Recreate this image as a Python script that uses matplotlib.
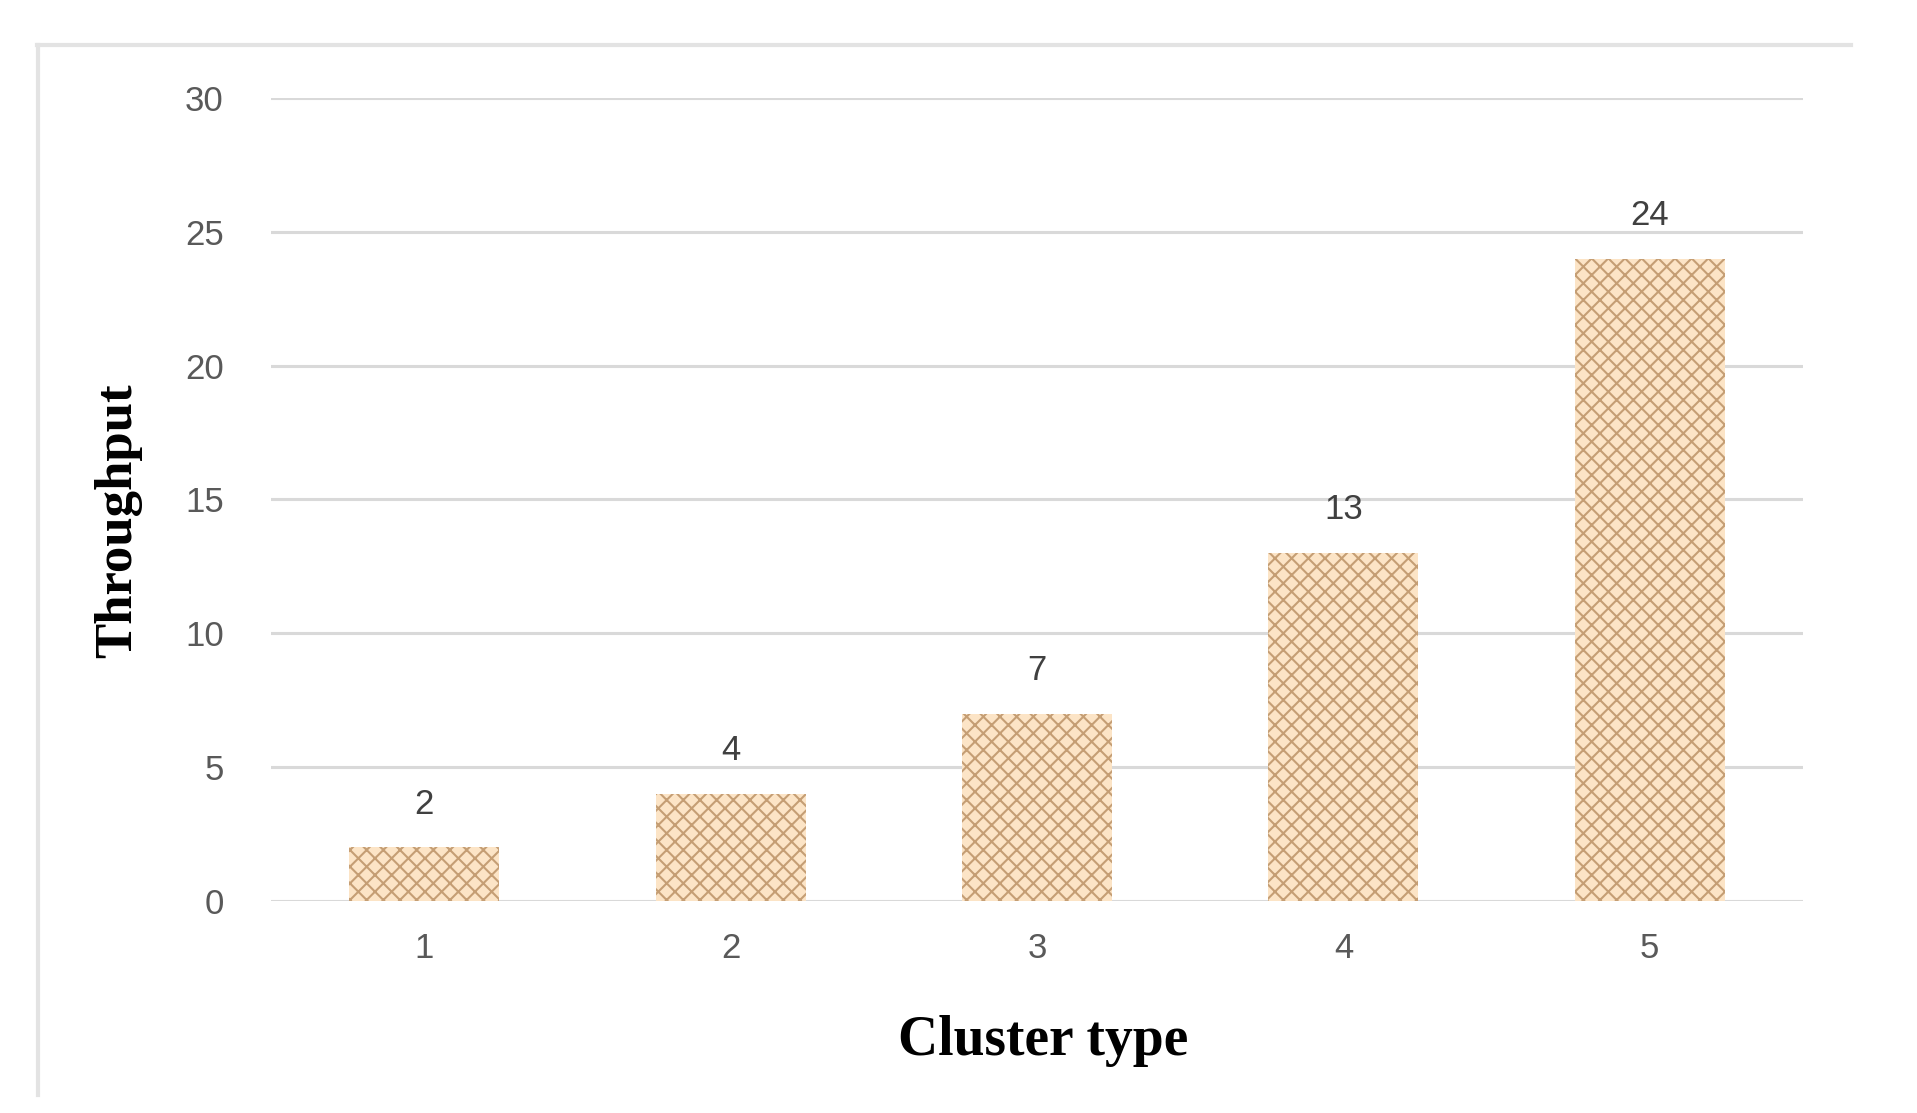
import matplotlib
matplotlib.use("Agg")
import matplotlib.pyplot as plt
from matplotlib.lines import Line2D

categories = ["1", "2", "3", "4", "5"]
throughput = [2, 4, 7, 13, 24]
y_ticks = [0, 5, 10, 15, 20, 25, 30]

plt.rcParams['hatch.color'] = '#C59E74'
plt.rcParams['hatch.linewidth'] = 1.5

fig = plt.figure(figsize=(19.17, 11.13), dpi=100)
ax = fig.add_axes([0.1414, 0.1905, 0.7991, 0.7215])

x = list(range(len(categories)))
bars = ax.bar(x, throughput, width=0.49, color='#FCE4C6', edgecolor='#C59E74',
              linewidth=0, hatch='xx', zorder=3)

for xi, v in zip(x, throughput):
    ax.text(xi, v + 1.0, str(v), ha='center', va='bottom',
            fontsize=25, color='#404040', family='Liberation Sans')

ax.set_xlim(-0.5, len(categories) - 0.5)
ax.set_ylim(0, 30)
ax.set_yticks(y_ticks)
ax.set_xticks(x)
ax.set_xticklabels(categories)
ax.yaxis.grid(True, color='#D9D9D9', linewidth=2.2, zorder=0)
ax.set_axisbelow(True)
for s in ax.spines.values():
    s.set_visible(False)
ax.tick_params(axis='both', length=0, labelsize=25, labelcolor='#595959')
for lab in ax.get_xticklabels() + ax.get_yticklabels():
    lab.set_family('Liberation Sans')
ax.tick_params(axis='y', pad=34)
ax.tick_params(axis='x', pad=22)

ax.set_xlabel('Cluster type', fontsize=40, fontweight='bold',
              family='Liberation Serif', color='black')
ax.set_ylabel('Throughput', fontsize=38, fontweight='bold',
              family='Liberation Serif', color='black')
ax.xaxis.set_label_coords(0.504, -0.142)
ax.yaxis.set_label_coords(-0.084, 0.473)

# outer chart frame (top and left edges visible)
fig.add_artist(Line2D([37/1917, 1851/1917], [1 - 45/1113, 1 - 45/1113],
                      transform=fig.transFigure, color='#E3E3E3', linewidth=3))
fig.add_artist(Line2D([38/1917, 38/1917], [1 - 45/1113, 1 - 1095/1113],
                      transform=fig.transFigure, color='#E3E3E3', linewidth=3))

fig.savefig('out.png', dpi=100, facecolor='white')
